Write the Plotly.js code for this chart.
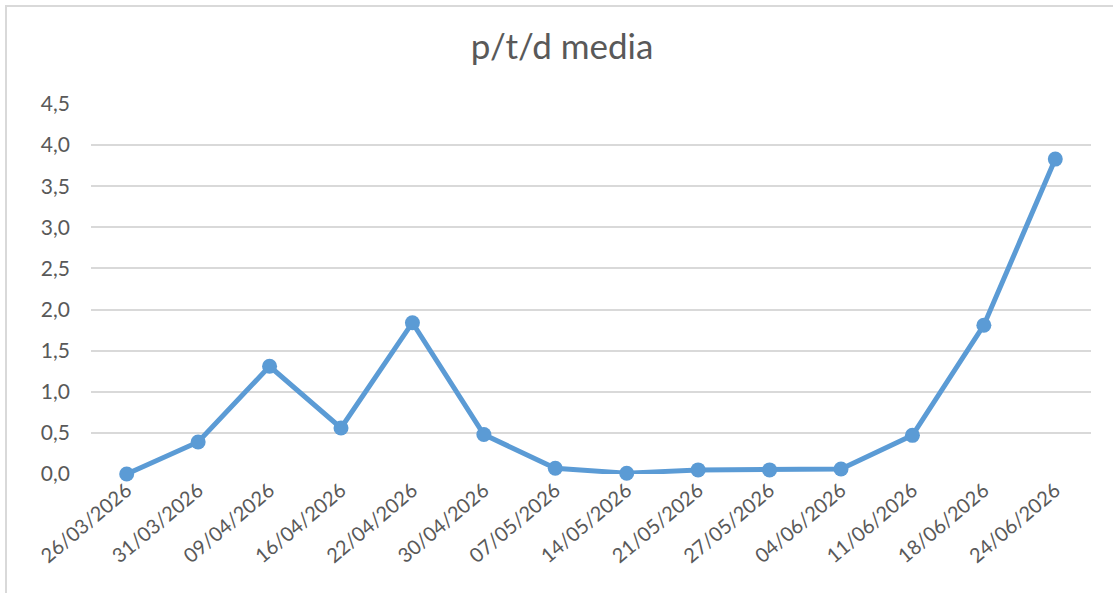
<!DOCTYPE html>
<html>
<head>
<meta charset="utf-8">
<script src="https://cdn.plot.ly/plotly-3.0.1.min.js"></script>
<style>
  html, body { margin: 0; padding: 0; background: #fff; overflow: hidden; }
  #chart { position: absolute; left: 0; top: 0; width: 1113px; height: 593px; }
  #frame { position: absolute; left: 5px; top: 5px; width: 1200px; height: 700px;
           border-top: 2px solid #d9d9d9; border-left: 2px solid #d9d9d9; pointer-events: none; }
</style>
</head>
<body>
<div id="chart"></div>
<div id="frame"></div>
<script>
const dates = ["26/03/2026", "31/03/2026", "09/04/2026", "16/04/2026", "22/04/2026",
               "30/04/2026", "07/05/2026", "14/05/2026", "21/05/2026", "27/05/2026",
               "04/06/2026", "11/06/2026", "18/06/2026", "24/06/2026"];
const values = [0.0, 0.39, 1.31, 0.56, 1.84, 0.48, 0.07, 0.01, 0.05, 0.05, 0.06, 0.47, 1.81, 3.83];
const yTicks = [0, 0.5, 1, 1.5, 2, 2.5, 3, 3.5, 4, 4.5];

const font = "Lato, 'Open Sans', 'Liberation Sans', sans-serif";
const trace = {
  x: dates, y: values, type: "scatter", mode: "lines+markers",
  line: { color: "#5B9BD5", width: 5 },
  marker: { color: "#5B9BD5", size: 15 },
  cliponaxis: false,
  hoverinfo: "skip"
};
const layout = {
  width: 1113, height: 593,
  margin: { l: 91, r: 22, t: 104, b: 119 },
  paper_bgcolor: "#ffffff", plot_bgcolor: "#ffffff",
  separators: ",.",
  showlegend: false,
  title: { text: "p/t/d media", x: 0.505, xanchor: "center", y: 1 - 47/593, yanchor: "middle",
           yref: "container", font: { family: font, size: 35, color: "#595959" } },
  xaxis: { type: "category", range: [-0.5, 13.5], tickangle: -40,
           showgrid: false, zeroline: false, showline: false, ticks: "",
           tickfont: { family: font, size: 20, color: "#595959" }, fixedrange: true },
  yaxis: { range: [0, 4.5], tickvals: yTicks, tickformat: ".1f",
           showgrid: true, gridcolor: "#d9d9d9", gridwidth: 2, zeroline: false,
           showline: false, ticks: "", ticklabelstandoff: 20,
           tickfont: { family: font, size: 21, color: "#595959" }, fixedrange: true }
};
Plotly.newPlot("chart", [trace], layout, { displayModeBar: false, staticPlot: true });
</script>
</body>
</html>
